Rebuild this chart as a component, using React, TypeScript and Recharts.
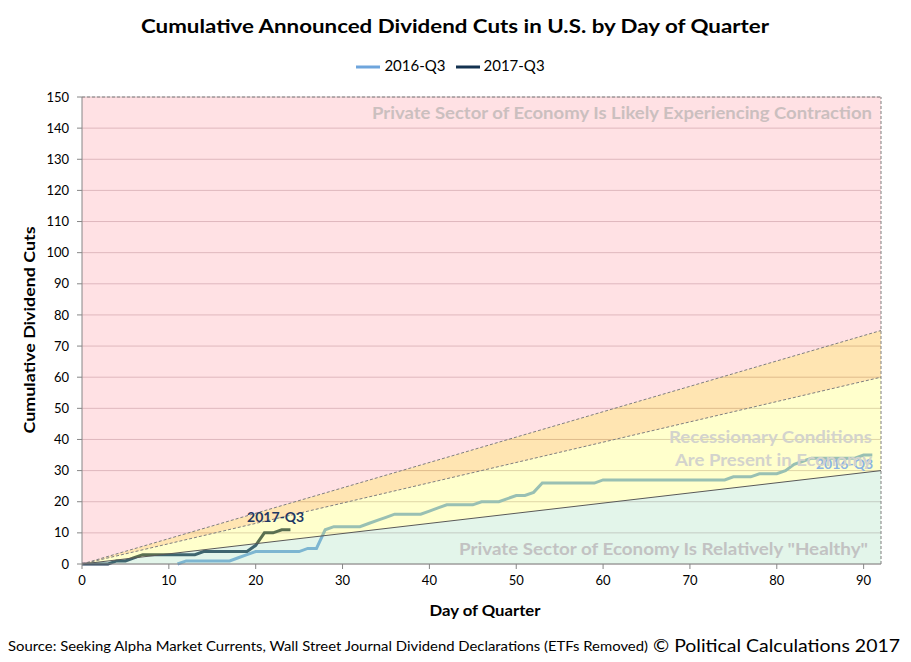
import React from 'react';
import {
  ComposedChart, Line, Area, XAxis, YAxis, CartesianGrid, ReferenceLine, ReferenceDot, Legend,
} from 'recharts';

const FONT = "Lato, 'Open Sans', sans-serif";

// Day-of-quarter categories
const days: number[] = Array.from({ length: 92 }, (_, i) => i);

// Cumulative dividend cuts, 2016-Q3 (days 0..91; series begins on day 11)
const cuts2016: (number | null)[] = [
  null, null, null, null, null, null, null, null, null, null, null, 0,
  1, 1, 1, 1, 1, 1,
  2, 3,
  4, 4, 4, 4, 4, 4,
  5, 5,
  11,
  12, 12, 12, 12,
  13, 14, 15,
  16, 16, 16, 16,
  17, 18,
  19, 19, 19, 19,
  20, 20, 20,
  21,
  22, 22,
  23,
  26, 26, 26, 26, 26, 26, 26,
  27, 27, 27, 27, 27, 27, 27, 27, 27, 27, 27, 27, 27, 27, 27,
  28, 28, 28,
  29, 29, 29,
  30, 32, 33,
  34, 34, 34, 34, 34, 34,
  35, 35,
];

// Cumulative dividend cuts, 2017-Q3 (days 0..24)
const cuts2017: number[] = [
  0, 0, 0, 0, 1, 1, 2, 3, 3, 3, 3, 3, 3, 3,
  4, 4, 4, 4, 4, 4,
  6, 10, 10, 11, 11,
];

// Threshold bands (value at start and end of quarter)
const bandDays: number[] = [0, 92];
const healthyUpper: number[] = [0, 30];
const recessionUpper: number[] = [0, 60];
const contractionLower: number[] = [0, 75];
const Y_MAX = 150;

const yTicks: number[] = [0, 10, 20, 30, 40, 50, 60, 70, 80, 90, 100, 110, 120, 130, 140, 150];
const xTicks: number[] = [0, 10, 20, 30, 40, 50, 60, 70, 80, 90];

const seriesData = days.map((d, i) => ({
  day: d,
  s2016: cuts2016[i],
  s2017: i < cuts2017.length ? cuts2017[i] : null,
}));

const bandData = bandDays.map((d, i) => ({
  day: d,
  healthy: healthyUpper[i],
  recession: recessionUpper[i],
  contraction: contractionLower[i],
  green: [0, healthyUpper[i]],
  yellow: [healthyUpper[i], recessionUpper[i]],
  orange: [recessionUpper[i], contractionLower[i]],
  pink: [contractionLower[i], Y_MAX],
}));

const C2016 = '#6EA5DC';
const C2017 = '#143250';

export default function App() {
  return (
    <div style={{ position: 'absolute', left: 0, top: 0, width: 911, height: 662, background: '#fff', fontFamily: FONT }}>
      <ComposedChart
        width={911}
        height={662}
        data={seriesData}
        margin={{ top: 97, right: 30, left: 0, bottom: 68 }}
      >
        <CartesianGrid horizontal vertical={false} stroke="#D2C4C8" strokeWidth={1} />
        <XAxis
          dataKey="day"
          type="number"
          domain={[0, 92]}
          ticks={xTicks}
          height={30}
          tickSize={5}
          tickMargin={7}
          stroke="#868686"
          tick={{ fontSize: 13, fill: '#000', fontFamily: FONT }}
          allowDecimals={false}
        />
        <YAxis
          type="number"
          domain={[0, Y_MAX]}
          ticks={yTicks}
          width={82}
          tickSize={5}
          tickMargin={8}
          stroke="#868686"
          tick={{ fontSize: 13, fill: '#000', fontFamily: FONT }}
          interval={0}
        />
        <Legend
          verticalAlign="middle"
          align="center"
          layout="horizontal"
          iconType="plainline"
          iconSize={24}
          wrapperStyle={{ top: 55, left: 0, width: 911, fontFamily: FONT, fontSize: 15 }}
          formatter={(value: any) => <span style={{ color: '#000' }}>{value}</span>}
        />
        <Line
          name="2016-Q3"
          dataKey="s2016"
          type="linear"
          stroke={C2016}
          strokeWidth={3}
          dot={false}
          activeDot={false}
          isAnimationActive={false}
          legendType="plainline"
        />
        <Line
          name="2017-Q3"
          dataKey="s2017"
          type="linear"
          stroke={C2017}
          strokeWidth={3}
          dot={false}
          activeDot={false}
          isAnimationActive={false}
          legendType="plainline"
        />
        <Area data={bandData} dataKey="green" type="linear" fill="#A2DEB9" fillOpacity={0.3} stroke="none" isAnimationActive={false} legendType="none" zIndex={450} />
        <Area data={bandData} dataKey="yellow" type="linear" fill="#FFFF55" fillOpacity={0.3} stroke="none" isAnimationActive={false} legendType="none" zIndex={450} />
        <Area data={bandData} dataKey="orange" type="linear" fill="#FFA800" fillOpacity={0.3} stroke="none" isAnimationActive={false} legendType="none" zIndex={450} />
        <Area data={bandData} dataKey="pink" type="linear" fill="#FF9BA5" fillOpacity={0.3} stroke="none" isAnimationActive={false} legendType="none" zIndex={450} />
        <Line data={bandData} dataKey="contraction" type="linear" stroke="#7F7F7F" strokeWidth={1} strokeDasharray="3 2" dot={false} activeDot={false} isAnimationActive={false} legendType="none" zIndex={460} />
        <Line data={bandData} dataKey="recession" type="linear" stroke="#7F7F7F" strokeWidth={1} strokeDasharray="3 2" dot={false} activeDot={false} isAnimationActive={false} legendType="none" zIndex={460} />
        <Line data={bandData} dataKey="healthy" type="linear" stroke="#595959" strokeWidth={1} dot={false} activeDot={false} isAnimationActive={false} legendType="none" zIndex={460} />
        <ReferenceLine y={Y_MAX} stroke="#7F7F7F" strokeDasharray="3 2" zIndex={460} />
        <ReferenceLine x={92} stroke="#7F7F7F" strokeDasharray="3 2" zIndex={460} />
        <ReferenceDot
          x={22.3}
          y={15}
          r={0}
          fill="none"
          stroke="none"
          label={{ value: '2017-Q3', position: 'center', fill: '#1F3864', fontSize: 14, fontWeight: 700, fontFamily: FONT }}
        />
        <ReferenceDot
          x={87.8}
          y={32}
          r={0}
          fill="none"
          stroke="none"
          label={{ value: '2016-Q3', position: 'center', fill: '#8DB4E2', fontSize: 14, fontWeight: 700, fontFamily: FONT }}
        />
      </ComposedChart>
      <svg
        width={911}
        height={662}
        style={{ position: 'absolute', left: 0, top: 0, pointerEvents: 'none' }}
        fontFamily={FONT}
      >
        <text x={455} y={33} textAnchor="middle" fontSize={19} fontWeight={700} fill="#000" textLength={628} lengthAdjust="spacingAndGlyphs">
          Cumulative Announced Dividend Cuts in U.S. by Day of Quarter
        </text>
        <text x={872} y={119} textAnchor="end" fontSize={17} fontWeight={700} fill="#CBBFBF" textLength={500} lengthAdjust="spacingAndGlyphs">
          Private Sector of Economy Is Likely Experiencing Contraction
        </text>
        <text x={872} y={443} textAnchor="end" fontSize={17} fontWeight={700} fill="#D3D3CD" textLength={203} lengthAdjust="spacingAndGlyphs">
          Recessionary Conditions
        </text>
        <text x={872} y={466} textAnchor="end" fontSize={17} fontWeight={700} fill="#D3D3CD" textLength={197} lengthAdjust="spacingAndGlyphs">
          Are Present in Economy
        </text>
        <text x={868} y={555} textAnchor="end" fontSize={17} fontWeight={700} fill="#C2C2C2" textLength={409} lengthAdjust="spacingAndGlyphs">
          Private Sector of Economy Is Relatively "Healthy"
        </text>
        <text transform="translate(35,330) rotate(-90)" textAnchor="middle" fontSize={15} fontWeight={700} fill="#000" textLength={207} lengthAdjust="spacingAndGlyphs">
          Cumulative Dividend Cuts
        </text>
        <text x={485} y={616} textAnchor="middle" fontSize={16} fontWeight={700} fill="#000" textLength={111} lengthAdjust="spacingAndGlyphs">
          Day of Quarter
        </text>
        <text x={8} y={651} fontSize={13.5} fill="#000" textLength={640} lengthAdjust="spacingAndGlyphs">
          Source: Seeking Alpha Market Currents, Wall Street Journal Dividend Declarations (ETFs Removed)
        </text>
        <text x={900} y={652} textAnchor="end" fontSize={17} fill="#000" textLength={247} lengthAdjust="spacingAndGlyphs">
          © Political Calculations 2017
        </text>
      </svg>
    </div>
  );
}
